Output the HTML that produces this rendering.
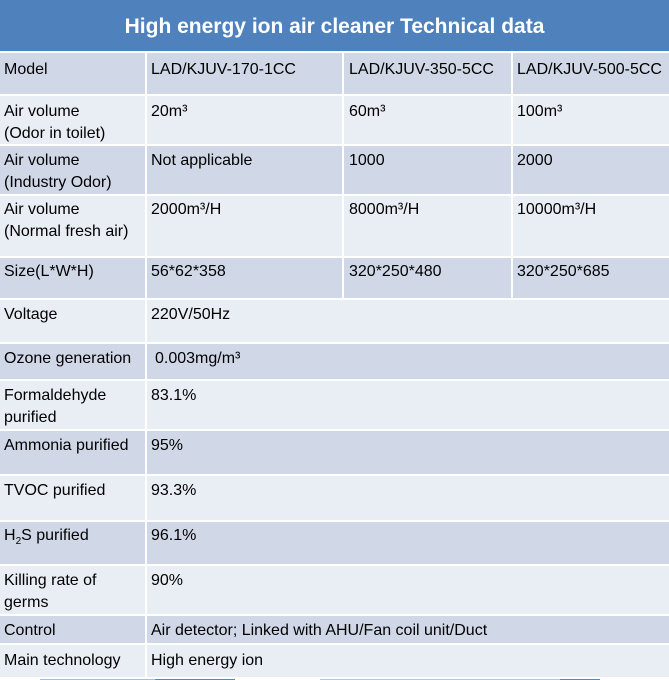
<!DOCTYPE html>
<html>
<head>
<meta charset="utf-8">
<style>
html,body{margin:0;padding:0;}
body{width:669px;height:680px;position:relative;overflow:hidden;background:#ffffff;font-family:"Liberation Sans",Arial,sans-serif;}
.title{position:absolute;left:0;top:0;width:669px;height:51px;background:#4f81bd;color:#fff;font-weight:bold;font-size:21px;text-align:center;line-height:54px;white-space:nowrap;}
.row{position:absolute;left:0;width:669px;}
.d{background:#d0d8e8;}
.l{background:#e9edf4;}
.c{position:absolute;top:0;font-size:16px;line-height:22px;color:#000;white-space:nowrap;}
.vl{position:absolute;top:0;width:2px;height:100%;background:#fff;}
sub{font-size:10px;vertical-align:-4px;line-height:0;}
</style>
</head>
<body>
<div class="title">High energy ion air cleaner Technical data</div>

<div class="row d" style="top:53px;height:41px;">
  <div class="c" style="left:4px;top:6px;">Model</div>
  <div class="c" style="left:151px;top:6px;">LAD/KJUV-170-1CC</div>
  <div class="c" style="left:349px;top:6px;">LAD/KJUV-350-5CC</div>
  <div class="c" style="left:517px;top:6px;">LAD/KJUV-500-5CC</div>
  <div class="vl" style="left:145px"></div><div class="vl" style="left:342px"></div><div class="vl" style="left:511px"></div>
</div>

<div class="row l" style="top:96px;height:48px;">
  <div class="c" style="left:4px;top:5px;">Air volume<br>(Odor in toilet)</div>
  <div class="c" style="left:151px;top:5px;">20m³</div>
  <div class="c" style="left:349px;top:5px;">60m³</div>
  <div class="c" style="left:517px;top:5px;">100m³</div>
  <div class="vl" style="left:145px"></div><div class="vl" style="left:342px"></div><div class="vl" style="left:511px"></div>
</div>

<div class="row d" style="top:146px;height:48px;">
  <div class="c" style="left:4px;top:4px;">Air volume<br>(Industry Odor)</div>
  <div class="c" style="left:151px;top:4px;">Not applicable</div>
  <div class="c" style="left:349px;top:4px;">1000</div>
  <div class="c" style="left:517px;top:4px;">2000</div>
  <div class="vl" style="left:145px"></div><div class="vl" style="left:342px"></div><div class="vl" style="left:511px"></div>
</div>

<div class="row l" style="top:196px;height:60px;">
  <div class="c" style="left:4px;top:3px;">Air volume<br>(Normal fresh air)</div>
  <div class="c" style="left:151px;top:3px;">2000m³/H</div>
  <div class="c" style="left:349px;top:3px;">8000m³/H</div>
  <div class="c" style="left:517px;top:3px;">10000m³/H</div>
  <div class="vl" style="left:145px"></div><div class="vl" style="left:342px"></div><div class="vl" style="left:511px"></div>
</div>

<div class="row d" style="top:258px;height:40px;">
  <div class="c" style="left:4px;top:3px;">Size(L*W*H)</div>
  <div class="c" style="left:151px;top:3px;">56*62*358</div>
  <div class="c" style="left:349px;top:3px;">320*250*480</div>
  <div class="c" style="left:517px;top:3px;">320*250*685</div>
  <div class="vl" style="left:145px"></div><div class="vl" style="left:342px"></div><div class="vl" style="left:511px"></div>
</div>

<div class="row l" style="top:300px;height:42px;">
  <div class="c" style="left:4px;top:4px;">Voltage</div>
  <div class="c" style="left:151px;top:4px;">220V/50Hz</div>
  <div class="vl" style="left:145px"></div>
</div>

<div class="row d" style="top:344px;height:35px;">
  <div class="c" style="left:4px;top:4px;">Ozone generation</div>
  <div class="c" style="left:155px;top:4px;">0.003mg/m³</div>
  <div class="vl" style="left:145px"></div>
</div>

<div class="row l" style="top:381px;height:48px;">
  <div class="c" style="left:4px;top:4px;">Formaldehyde<br>purified</div>
  <div class="c" style="left:151px;top:4px;">83.1%</div>
  <div class="vl" style="left:145px"></div>
</div>

<div class="row d" style="top:431px;height:43px;">
  <div class="c" style="left:4px;top:4px;">Ammonia purified</div>
  <div class="c" style="left:151px;top:4px;">95%</div>
  <div class="vl" style="left:145px"></div>
</div>

<div class="row l" style="top:476px;height:44px;">
  <div class="c" style="left:4px;top:4px;">TVOC purified</div>
  <div class="c" style="left:151px;top:4px;">93.3%</div>
  <div class="vl" style="left:145px"></div>
</div>

<div class="row d" style="top:522px;height:42px;">
  <div class="c" style="left:4px;top:3px;">H<sub>2</sub>S purified</div>
  <div class="c" style="left:151px;top:3px;">96.1%</div>
  <div class="vl" style="left:145px"></div>
</div>

<div class="row l" style="top:566px;height:48px;">
  <div class="c" style="left:4px;top:4px;">Killing rate of<br>germs</div>
  <div class="c" style="left:151px;top:4px;">90%</div>
  <div class="vl" style="left:145px"></div>
</div>

<div class="row d" style="top:616px;height:27px;">
  <div class="c" style="left:4px;top:4px;">Control</div>
  <div class="c" style="left:151px;top:4px;">Air detector; Linked with AHU/Fan coil unit/Duct</div>
  <div class="vl" style="left:145px"></div>
</div>

<div class="row l" style="top:645px;height:32px;">
  <div class="c" style="left:4px;top:5px;">Main technology</div>
  <div class="c" style="left:151px;top:5px;">High energy ion</div>
  <div class="vl" style="left:145px"></div>
</div>

<div style="position:absolute;left:40px;top:679px;width:195px;height:1px;background:#a9bdd6;"></div>
<div style="position:absolute;left:155px;top:679px;width:80px;height:1px;background:#5d86b8;"></div>
<div style="position:absolute;left:320px;top:679px;width:280px;height:1px;background:#b4c4d8;"></div>
<div style="position:absolute;left:560px;top:679px;width:40px;height:1px;background:#5d86b8;"></div>
</body>
</html>
